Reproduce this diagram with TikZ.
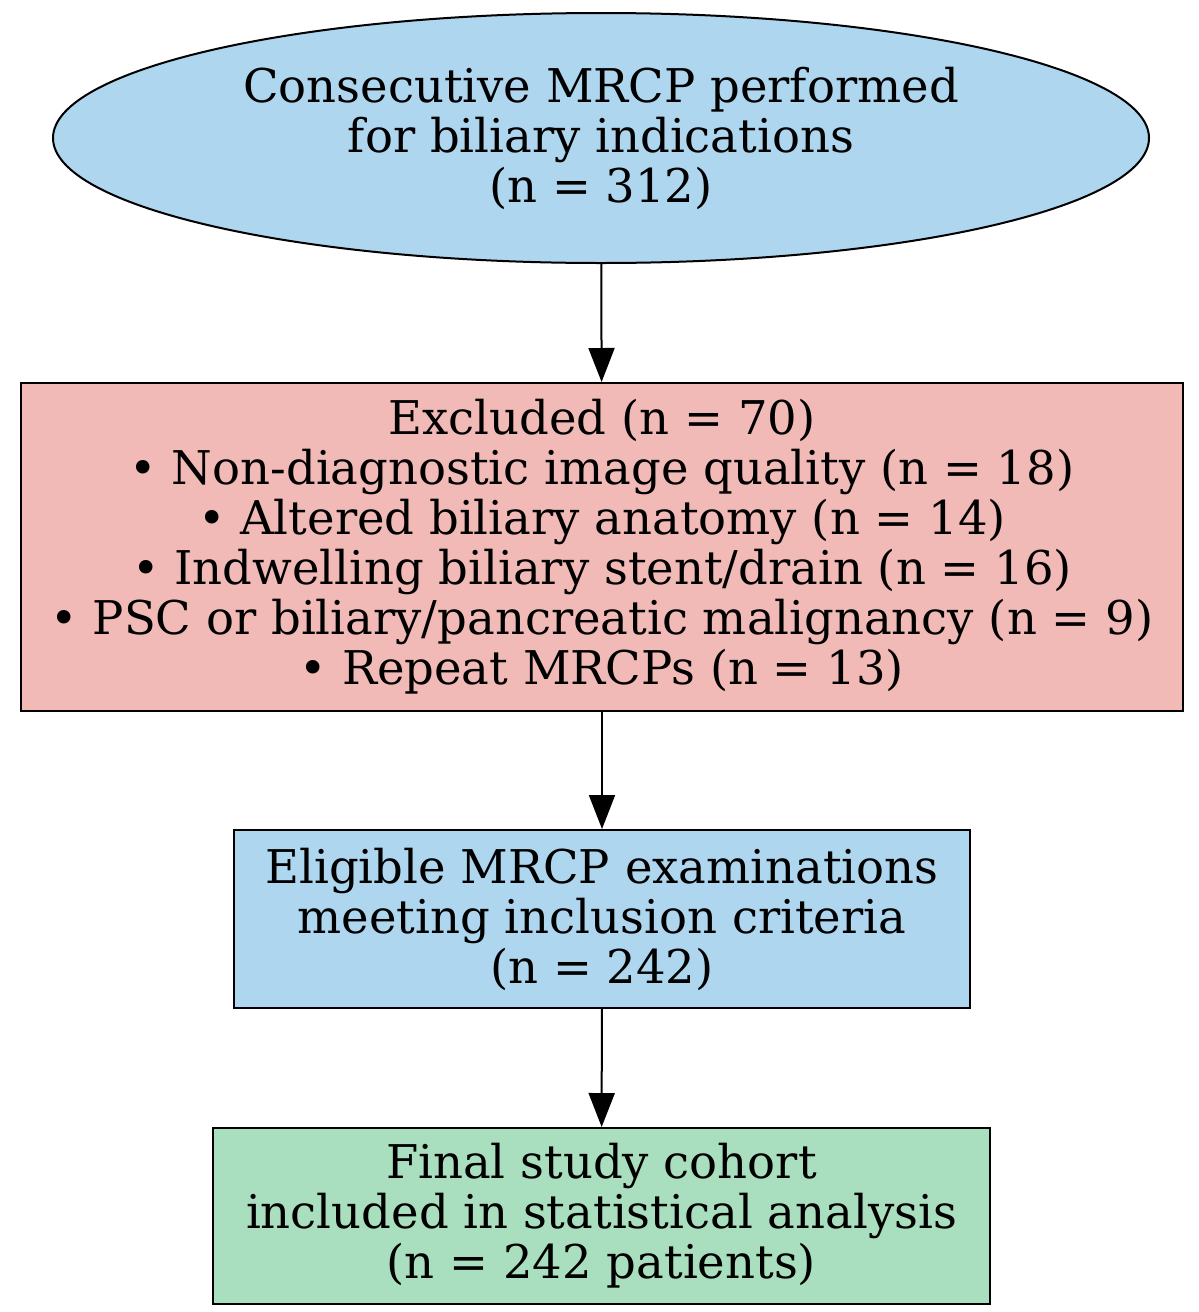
\documentclass[tikz,border=0pt]{standalone}
\usepackage{fontspec}
\setmainfont{DejaVu Serif}
\usetikzlibrary{shapes.geometric,arrows.meta}
\definecolor{cblue}{RGB}{174,214,239}
\definecolor{cpink}{RGB}{242,186,183}
\definecolor{cgreen}{RGB}{169,223,191}
\begin{document}
\begin{tikzpicture}[x=1pt,y=-1pt,
  every node/.style={draw=black,line width=2pt,align=center,inner sep=0pt,
    font=\fontsize{46.5}{50}\selectfont},
  conn/.style={line width=2pt,-{Triangle[length=34pt,width=26pt]}}]
\useasboundingbox (0,0) rectangle (1199,1312);
\node[ellipse,fill=cblue,minimum width=1096pt,minimum height=250pt] (a) at (601,138)
  {Consecutive MRCP performed\\for biliary indications\\(n = 312)};
\node[rectangle,fill=cpink,minimum width=1162pt,minimum height=328pt] (b) at (602,547)
  {Excluded (n = 70)\\• Non-diagnostic image quality (n = 18)\\• Altered biliary anatomy (n = 14)\\• Indwelling biliary stent/drain (n = 16)\\• PSC or biliary/pancreatic malignancy (n = 9)\\• Repeat MRCPs (n = 13)};
\node[rectangle,fill=cblue,minimum width=736pt,minimum height=178pt] (c) at (602,919)
  {Eligible MRCP examinations\\meeting inclusion criteria\\(n = 242)};
\node[rectangle,fill=cgreen,minimum width=777pt,minimum height=176pt] (d) at (601.5,1216)
  {Final study cohort\\included in statistical analysis\\(n = 242 patients)};
\draw[conn] (a) -- (b);
\draw[conn] (b) -- (c);
\draw[conn] (c) -- (d);
\end{tikzpicture}
\end{document}
